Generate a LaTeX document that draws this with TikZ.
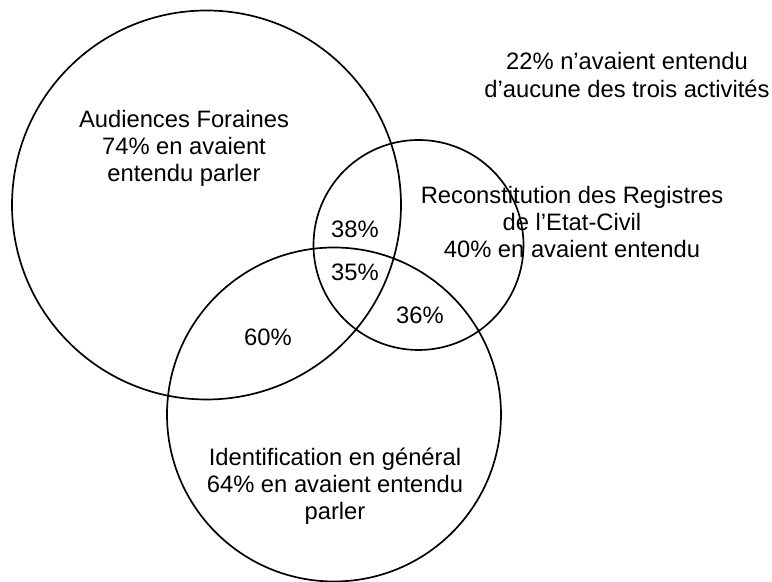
\documentclass[tikz,border=0pt]{standalone}
\usepackage{fontspec}
\setmainfont{Liberation Sans}
\usetikzlibrary{positioning}

\begin{document}
\begin{tikzpicture}[
  set/.style={circle, draw=black, line width=1.2pt, inner sep=0pt},
  lbl/.style={align=center, text=black, font=\fontsize{16.9}{19.3}\selectfont}
]
  \useasboundingbox (0,0) rectangle (19.3,14.55);

  % the three sets
  \node[set, minimum size=9.725cm] (foraines) at (5.1625,9.425) {};
  \node[set, minimum size=5.25cm] (registres) at (10.4625,8.425) {};
  \node[set, minimum size=8.35cm] (identif) at (8.35,4.1875) {};

  \node[lbl] (tForaines) at (4.6,10.84) {Audiences Foraines\\74\% en avaient\\entendu parler};
  \node[lbl] (tRegistres) at (14.3,9.0) {Reconstitution des Registres\\de l’Etat-Civil\\40\% en avaient entendu};
  \node[lbl] (tIdentif) at (8.375,2.4) {Identification en général\\64\% en avaient entendu\\parler};
  \node[lbl] (tAucune) at (15.675,12.675) {22\% n’avaient entendu\\d’aucune des trois activités};

  % overlaps
  \node[lbl] (fr) at (8.875,8.825) {38\%};
  \node[lbl] (fri) at (8.875,7.75) {35\%};
  \node[lbl] (ri) at (10.5,6.675) {36\%};
  \node[lbl] (fi) at (6.7,6.125) {60\%};
\end{tikzpicture}
\end{document}
